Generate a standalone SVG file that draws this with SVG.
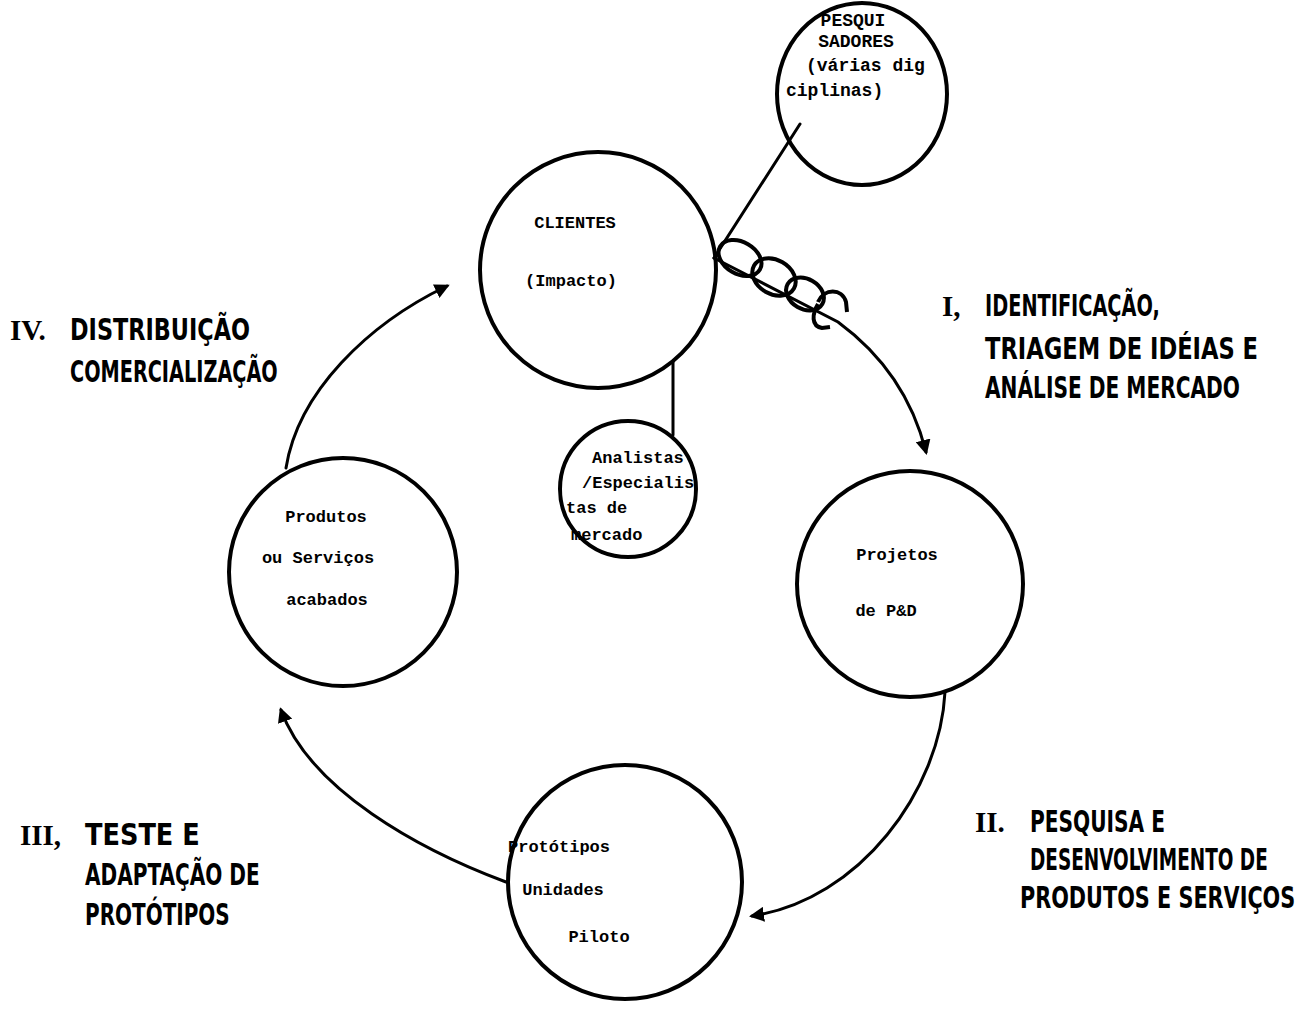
<svg xmlns="http://www.w3.org/2000/svg" width="1311" height="1028" viewBox="0 0 1311 1028">
<style>
.c{fill:none;stroke:#000;stroke-width:4}
.l{fill:none;stroke:#000;stroke-width:3;stroke-linecap:round}
.t{font-family:"Liberation Mono","DejaVu Sans Mono",monospace;font-weight:bold;font-size:17px;fill:#000}
.p{font-family:"Liberation Mono","DejaVu Sans Mono",monospace;font-weight:bold;font-size:18px;fill:#000}
.h{font-family:"DejaVu Sans Condensed","Liberation Sans Narrow","Liberation Sans",sans-serif;font-weight:bold;font-size:30px;fill:#000}
.r{font-family:"Liberation Serif",serif;font-weight:bold;font-size:29px;fill:#000}
</style>
<defs>
<marker id="ah" viewBox="0 0 10 10" refX="8" refY="5" markerWidth="5" markerHeight="5" orient="auto" markerUnits="strokeWidth">
<path d="M0,0 L10,5 L0,10 z" fill="#000"/>
</marker>
</defs>
<rect width="1311" height="1028" fill="#fff"/>
<g id="connectors">
<line class="l" x1="800" y1="124" x2="714" y2="258"/>
<line class="l" x1="673" y1="361" x2="673" y2="435"/>
<path class="l" d="M714 258 L838 322 Q906 372 926 452" marker-end="url(#ah)"/>
<path class="l" d="M945 692 C940 790 860 900 752 916" marker-end="url(#ah)"/>
<path class="l" d="M506 882 C420 850 310 790 281 710" marker-end="url(#ah)"/>
<path class="l" d="M286 468 C298 392 368 324 447 286" marker-end="url(#ah)"/>
<g id="coil" fill="none" stroke="#000" stroke-width="4">
<ellipse cx="740" cy="258" rx="23" ry="16" transform="rotate(30 740 258)"/>
<ellipse cx="774" cy="277" rx="23" ry="17" transform="rotate(30 774 277)"/>
<ellipse cx="805" cy="294" rx="20" ry="15" transform="rotate(30 805 294)"/>
<path d="M818 302 C824 288 842 288 846 302 L847 312 M818 304 C812 314 811 326 822 328 L830 327"/>
</g>
</g>
<g id="n-clientes">
<circle class="c" cx="598" cy="270" r="118"/>
<text class="t" x="575" y="228" text-anchor="middle">CLIENTES</text>
<text class="t" x="571" y="286" text-anchor="middle">(Impacto)</text>
</g>
<g id="n-pesquisadores">
<ellipse class="c" cx="862" cy="94" rx="85" ry="91"/>
<text class="p" x="853" y="26" text-anchor="middle">PESQUI</text>
<text class="p" x="856" y="47" text-anchor="middle">SADORES</text>
<text class="p" x="806" y="71">(várias dig</text>
<text class="p" x="786" y="96">ciplinas)</text>
</g>
<g id="n-analistas">
<circle class="c" cx="628" cy="489" r="68"/>
<text class="t" x="592" y="463">Analistas</text>
<text class="t" x="582" y="488">/Especialis</text>
<text class="t" x="566" y="513">tas de</text>
<text class="t" x="571" y="540">mercado</text>
</g>
<g id="n-projetos">
<circle class="c" cx="910" cy="584" r="113"/>
<text class="t" x="897" y="560" text-anchor="middle">Projetos</text>
<text class="t" x="886" y="616" text-anchor="middle">de P&amp;D</text>
</g>
<g id="n-prototipos">
<circle class="c" cx="625" cy="882" r="117"/>
<text class="t" x="559" y="852" text-anchor="middle">Protótipos</text>
<text class="t" x="563" y="895" text-anchor="middle">Unidades</text>
<text class="t" x="599" y="942" text-anchor="middle">Piloto</text>
</g>
<g id="n-produtos">
<circle class="c" cx="343" cy="572" r="114"/>
<text class="t" x="326" y="522" text-anchor="middle">Produtos</text>
<text class="t" x="318" y="563" text-anchor="middle">ou Serviços</text>
<text class="t" x="327" y="605" text-anchor="middle">acabados</text>
</g>
<g id="labels">
<text class="r" x="942" y="316">I,</text>
<text class="h" transform="translate(985 316) scale(0.75 1)" textLength="233" lengthAdjust="spacingAndGlyphs">IDENTIFICAÇÃO,</text>
<text class="h" transform="translate(985 359) scale(0.75 1)" textLength="364" lengthAdjust="spacingAndGlyphs">TRIAGEM DE IDÉIAS E</text>
<text class="h" transform="translate(985 398) scale(0.75 1)" textLength="340" lengthAdjust="spacingAndGlyphs">ANÁLISE DE MERCADO</text>
<text class="r" x="975" y="832">II.</text>
<text class="h" transform="translate(1030 832) scale(0.75 1)" textLength="180" lengthAdjust="spacingAndGlyphs">PESQUISA E</text>
<text class="h" transform="translate(1030 870) scale(0.75 1)" textLength="317" lengthAdjust="spacingAndGlyphs">DESENVOLVIMENTO DE</text>
<text class="h" transform="translate(1020 908) scale(0.75 1)" textLength="367" lengthAdjust="spacingAndGlyphs">PRODUTOS E SERVIÇOS</text>
<text class="r" x="20" y="845">III,</text>
<text class="h" transform="translate(85 845) scale(0.75 1)" textLength="153" lengthAdjust="spacingAndGlyphs">TESTE E</text>
<text class="h" transform="translate(85 885) scale(0.75 1)" textLength="233" lengthAdjust="spacingAndGlyphs">ADAPTAÇÃO DE</text>
<text class="h" transform="translate(85 925) scale(0.75 1)" textLength="193" lengthAdjust="spacingAndGlyphs">PROTÓTIPOS</text>
<text class="r" x="10" y="340">IV.</text>
<text class="h" transform="translate(70 340) scale(0.75 1)" textLength="240" lengthAdjust="spacingAndGlyphs">DISTRIBUIÇÃO</text>
<text class="h" transform="translate(70 382) scale(0.75 1)" textLength="277" lengthAdjust="spacingAndGlyphs">COMERCIALIZAÇÃO</text>
</g>
</svg>
